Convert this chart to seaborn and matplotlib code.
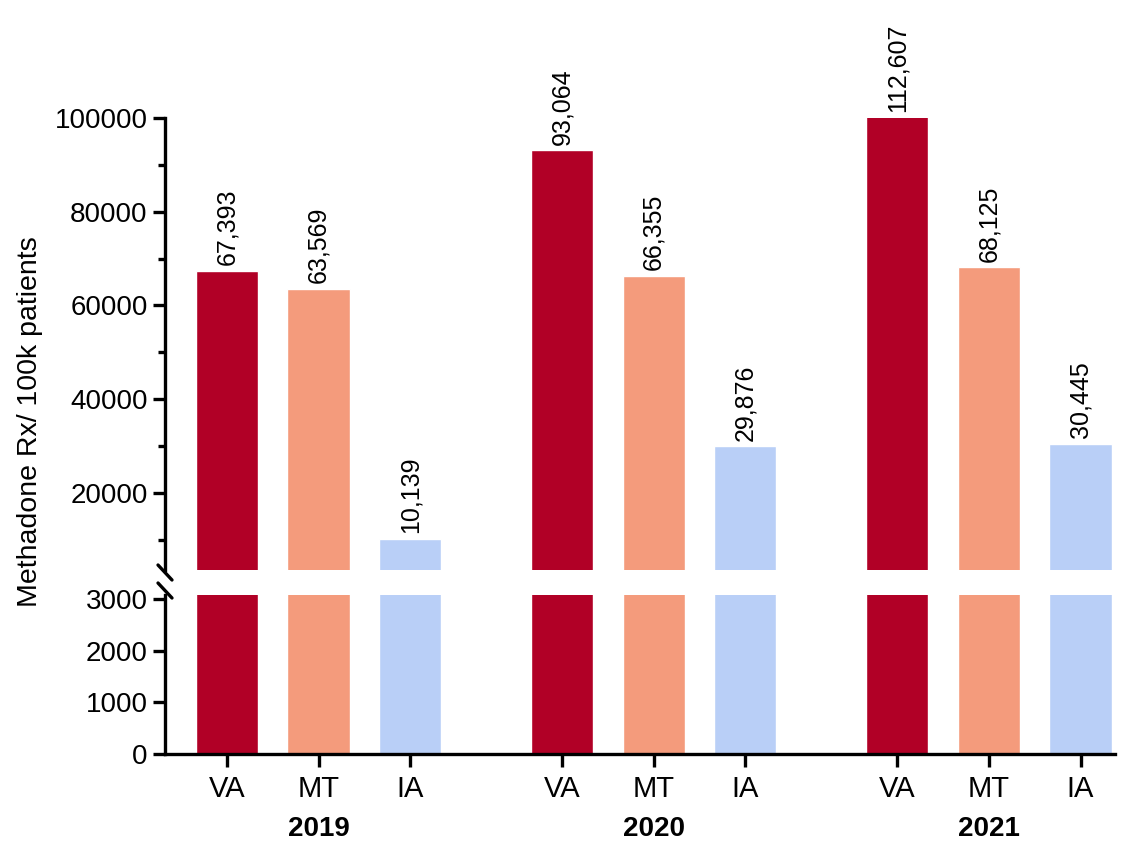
import pandas as pd
import numpy as np
import matplotlib.pyplot as plt
from matplotlib.lines import Line2D
from matplotlib.ticker import MultipleLocator
import seaborn as sns

# values
years = ["2019", "2020", "2021"]
sites = ["VA", "MT", "IA"]
va_values = [67393, 93064, 112607]
mt_values = [63569, 66355, 68125]
ia_values = [10139, 29876, 30445]
site_colors = ["#B10026", "#F49B7C", "#B9CFF7"]


def build_frame():
    rows = []
    for i, y in enumerate(years):
        for site, vals in zip(sites, [va_values, mt_values, ia_values]):
            rows.append({"year": y, "site": site, "value": vals[i]})
    return pd.DataFrame(rows)


def style_axis(ax):
    sns.despine(ax=ax)
    ax.spines["left"].set_linewidth(2.4)
    ax.spines["bottom"].set_linewidth(2.4)
    ax.tick_params(axis="both", which="major", length=9, width=2.4,
                   labelsize=20, color="black", labelcolor="black")
    ax.tick_params(axis="y", which="minor", length=5, width=2.4)


sns.set_style("ticks", {"axes.edgecolor": "black", "text.color": "black",
                        "xtick.color": "black", "ytick.color": "black"})
plt.rcParams["font.family"] = ["Liberation Sans", "DejaVu Sans"]

df = build_frame()

fig = plt.figure(figsize=(11.34, 8.5), dpi=100)
ax_top = fig.add_axes([0.1455, 0.3294, 0.838, 0.5318])
ax_bot = fig.add_axes([0.1455, 0.1129, 0.838, 0.1871])

for ax in (ax_top, ax_bot):
    sns.barplot(data=df, x="year", y="value", hue="site", hue_order=sites,
                palette=site_colors, width=0.82, gap=0.32, errorbar=None,
                legend=False, saturation=1, ax=ax)
    ax.set_xlim(-0.458, 2.377)
    ax.set_xlabel("")
    ax.set_ylabel("")
    style_axis(ax)

# top part of broken axis
ax_top.set_ylim(3500, 100000)
ax_top.set_yticks([20000, 40000, 60000, 80000, 100000])
ax_top.yaxis.set_minor_locator(MultipleLocator(10000))
ax_top.spines["bottom"].set_visible(False)
ax_top.tick_params(axis="x", which="both", bottom=False, labelbottom=False)

# value labels on top of bars
for p in ax_top.patches:
    h = p.get_height()
    cx = p.get_x() + p.get_width() / 2
    ax_top.annotate(f"{int(round(h)):,}", xy=(cx, min(h, 100000)),
                    xytext=(0, 4), textcoords="offset points",
                    rotation=90, ha="center", va="bottom", fontsize=18,
                    color="black", annotation_clip=False)

# bottom part of broken axis
ax_bot.set_ylim(0, 3080)
ax_bot.set_yticks([0, 1000, 2000, 3000])

centers = sorted(p.get_x() + p.get_width() / 2 for p in ax_bot.patches)
ax_bot.set_xticks(centers)
ax_bot.set_xticklabels(sites * len(years))
ax_bot.tick_params(axis="x", pad=6, labelsize=21)

for i, y in enumerate(years):
    gx = np.mean(centers[i * 3:(i + 1) * 3])
    ax_bot.text(gx, -0.47, y, transform=ax_bot.get_xaxis_transform(),
                ha="center", va="center", fontsize=20, fontweight="bold",
                color="black")

# break marks on the y axis
for py in (565, 583):
    fig.add_artist(Line2D([158 / 1134, 172 / 1134],
                          [1 - py / 850, 1 - (py + 15) / 850],
                          transform=fig.transFigure, color="black", lw=2.4))

fig.text(30 / 1134, 1 - 422 / 850, "Methadone Rx/ 100k patients",
         rotation=90, ha="center", va="center", fontsize=20.5, color="black")

fig.savefig("out.png", dpi=100)
